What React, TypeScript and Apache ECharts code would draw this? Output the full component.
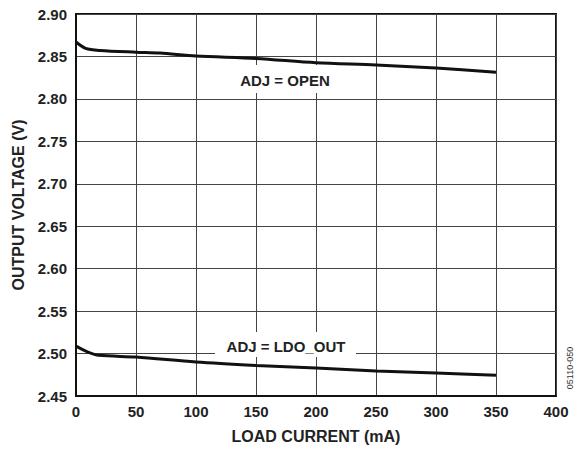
import React, { useEffect, useRef } from "react";
import * as echarts from "echarts";

const xTicks = [0, 50, 100, 150, 200, 250, 300, 350, 400];
const openCurrent = [0, 8, 20, 50, 70, 100, 150, 200, 250, 300, 350];
const openVoltage = [2.867, 2.8595, 2.857, 2.855, 2.854, 2.8505, 2.8477, 2.8426, 2.84, 2.8363, 2.8313];
const ldoCurrent = [0, 10, 19, 50, 100, 150, 200, 250, 300, 350];
const ldoVoltage = [2.5088, 2.5018, 2.4979, 2.4959, 2.49, 2.486, 2.4829, 2.4794, 2.477, 2.4743];

const FONT = "'Liberation Sans', Arial, sans-serif";

export default function App() {
  const ref = useRef<HTMLDivElement>(null);
  useEffect(() => {
    if (!ref.current) return;
    const chart = echarts.init(ref.current, null, { renderer: "svg" });
    const toPairs = (xs: number[], ys: number[]) => xs.map((x, i) => [x, ys[i]]);
    const labelStyle = { fontFamily: FONT, fontWeight: "bold", fontSize: 15, color: "#222" };
    chart.setOption({
      animation: false,
      backgroundColor: "#fff",
      grid: {
        left: 76,
        right: 26,
        top: 14,
        bottom: 55,
        outerBoundsMode: "none",
        containLabel: false,
        show: true,
        borderColor: "#111",
        borderWidth: 2,
        backgroundColor: "transparent",
      },
      xAxis: {
        type: "value",
        min: 0,
        max: 400,
        interval: 50,
        name: "LOAD CURRENT (mA)",
        nameLocation: "middle",
        nameGap: 32,
        nameTextStyle: { fontFamily: FONT, fontWeight: "bold", fontSize: 16, color: "#222" },
        axisLine: { show: true, lineStyle: { color: "#111", width: 2 } },
        axisTick: { show: false },
        axisLabel: { ...labelStyle, margin: 8 },
        splitLine: { show: true, lineStyle: { color: "#444", width: 1 } },
      },
      yAxis: {
        type: "value",
        min: 2.45,
        max: 2.9,
        interval: 0.05,
        name: "OUTPUT VOLTAGE (V)",
        nameLocation: "middle",
        nameGap: 47,
        nameTextStyle: { fontFamily: FONT, fontWeight: "bold", fontSize: 16, color: "#222" },
        axisLine: { show: true, lineStyle: { color: "#111", width: 2 } },
        axisTick: { show: false },
        axisLabel: { ...labelStyle, margin: 9, formatter: (v: number) => v.toFixed(2) },
        splitLine: { show: true, lineStyle: { color: "#444", width: 1 } },
      },
      series: [
        {
          type: "line",
          data: toPairs(openCurrent, openVoltage),
          smooth: 0.3,
          symbol: "none",
          lineStyle: { color: "#111", width: 3 },
        },
        {
          type: "line",
          data: toPairs(ldoCurrent, ldoVoltage),
          smooth: 0.3,
          symbol: "none",
          lineStyle: { color: "#111", width: 3 },
        },
      ],
      graphic: [
        { type: "rect", shape: { x: 234, y: 65, width: 102, height: 28 }, style: { fill: "#fff" }, z: 100 },
        {
          type: "text",
          x: 285,
          y: 80,
          z: 101,
          style: { text: "ADJ = OPEN", fontFamily: FONT, fontWeight: "bold", fontSize: 15, fill: "#222", align: "center", verticalAlign: "middle" },
        },
        { type: "rect", shape: { x: 215, y: 332, width: 141, height: 25 }, style: { fill: "#fff" }, z: 100 },
        {
          type: "text",
          x: 286,
          y: 346,
          z: 101,
          style: { text: "ADJ = LDO_OUT", fontFamily: FONT, fontWeight: "bold", fontSize: 15, fill: "#222", align: "center", verticalAlign: "middle" },
        },
        {
          type: "text",
          x: 570,
          y: 368,
          rotation: Math.PI / 2,
          z: 101,
          style: { text: "05110-050", fontFamily: FONT, fontSize: 9, fill: "#333", align: "center", verticalAlign: "middle" },
        },
      ],
    });
    return () => chart.dispose();
  }, []);
  return <div ref={ref} style={{ position: "fixed", left: 0, top: 0, width: 582, height: 451 }} />;
}
